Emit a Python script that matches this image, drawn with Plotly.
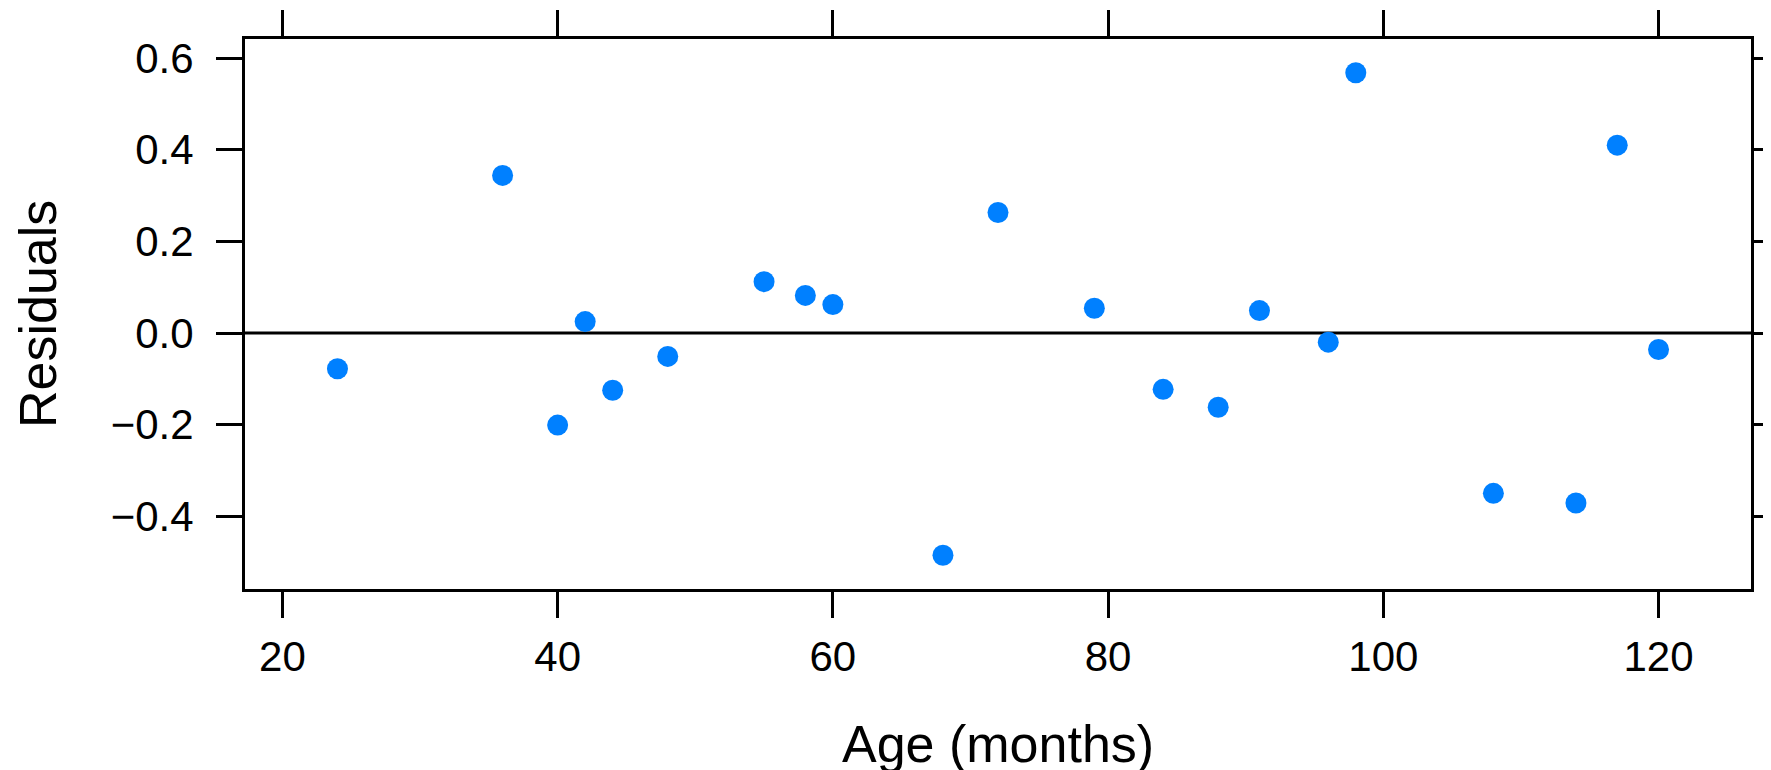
import plotly.graph_objects as go

# Data
age_months = [24, 36, 40, 42, 44, 48, 55, 58, 60, 68, 72, 79, 84, 88, 91, 96, 98, 108, 114, 117, 120]
residuals = [-0.078, 0.344, -0.201, 0.025, -0.125, -0.051, 0.112, 0.082, 0.062, -0.485, 0.263,
             0.054, -0.123, -0.162, 0.049, -0.020, 0.568, -0.350, -0.371, 0.410, -0.036]

x_tickvals = [20, 40, 60, 80, 100, 120]
x_ticktext = ["20", "40", "60", "80", "100", "120"]
y_tickvals = [-0.4, -0.2, 0.0, 0.2, 0.4, 0.6]
y_ticktext = ["\u22120.4", "\u22120.2", "0.0", "0.2", "0.4", "0.6"]

x_title = "Age (months)"
y_title = "Residuals"

FONT = "Liberation Sans, Arial, Helvetica, sans-serif"
OFF = 8  # default page body margin offset
W, H = 1771 - OFF, 770 - OFF
L, T = 245 - OFF, 39 - OFF
R = W - (1751 - OFF)
B = H - (589 - OFF)

# lattice-style range padding (7% of data range on each side)
xr = max(age_months) - min(age_months)
yr = max(residuals) - min(residuals)
x_range = [min(age_months) - 0.07 * xr, max(age_months) + 0.07 * xr]
y_range = [min(residuals) - 0.07 * yr, max(residuals) + 0.07 * yr]

fig = go.Figure()
fig.add_trace(go.Scatter(
    x=age_months, y=residuals, mode="markers",
    marker=dict(color="#0080FF", size=21, line=dict(width=0)),
    showlegend=False, cliponaxis=False,
))

fig.add_hline(y=0, line=dict(color="black", width=3), layer="below")

axis_common = dict(
    showline=True, linecolor="black", linewidth=3, mirror="ticks",
    ticks="outside", ticklen=26, tickwidth=3, tickcolor="black",
    showgrid=False, zeroline=False, automargin=False,
    tickfont=dict(family=FONT, size=42, color="black"),
)

fig.update_xaxes(range=x_range, tickmode="array", tickvals=x_tickvals, ticktext=x_ticktext,
                 ticklabelstandoff=3, **axis_common)
fig.update_yaxes(range=y_range, tickmode="array", tickvals=y_tickvals, ticktext=y_ticktext,
                 ticklabelstandoff=14, **axis_common)

plot_w = W - L - R
plot_h = H - T - B
bottom_px = H - B

fig.add_annotation(
    text=x_title, xref="paper", yref="paper",
    x=0.5, y=-((744 - OFF) - bottom_px) / plot_h, xanchor="center", yanchor="middle",
    showarrow=False, font=dict(family=FONT, size=52, color="black"),
)
fig.add_annotation(
    text=y_title, xref="paper", yref="paper",
    x=((38 - OFF) - L) / plot_w, y=0.5, xanchor="center", yanchor="middle",
    textangle=-90, showarrow=False, font=dict(family=FONT, size=52, color="black"),
)

fig.update_layout(
    width=W, height=H,
    margin=dict(l=L, r=R, t=T, b=B, pad=0, autoexpand=False),
    paper_bgcolor="white", plot_bgcolor="white",
    font=dict(family=FONT, color="black"),
)

fig.write_html("out.html")
